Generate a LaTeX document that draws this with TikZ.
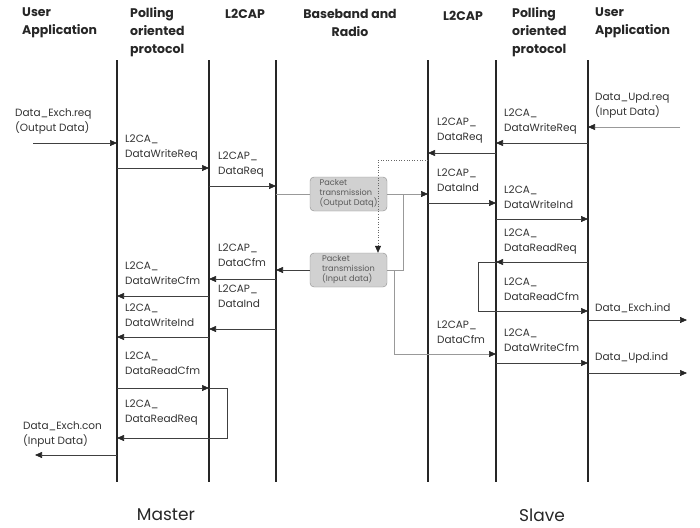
\documentclass[tikz,border=0pt]{standalone}
\usepackage{fontspec}
\setmainfont{Poppins}
\usetikzlibrary{arrows.meta}
\begin{document}
\begin{tikzpicture}[x=1pt,y=-1pt,
  life/.style={line width=1.8pt, draw=black!85},
  msg/.style={draw=black!75, line width=0.6pt, -{Triangle[length=7pt,width=6pt,color=black!85]}},
  gline/.style={draw=black!40, line width=0.6pt},
  garr/.style={draw=black!40, line width=0.6pt, -{Triangle[length=7pt,width=6pt,color=black!85]}},
  lbl/.style={anchor=west, inner sep=0pt, align=left, font=\fontsize{10.5}{15}\selectfont, text=black!80},
  hdr/.style={anchor=west, inner sep=0pt, align=left, font=\bfseries\fontsize{12.5}{18}\selectfont, text=black!85},
  pkt/.style={draw=black!45, fill=black!18, rounded corners=4pt, minimum width=77pt, minimum height=34pt, inner sep=0pt, align=left, font=\fontsize{8.2}{10}\selectfont, text=black!65},
  big/.style={inner sep=0pt, font=\fontsize{17}{20}\selectfont, text=black!85}
]
\useasboundingbox (0,0) rectangle (700,527);
% lifelines
\coordinate (mA) at (117,60); \coordinate (mAb) at (117,482);
\coordinate (mB) at (209,60); \coordinate (mBb) at (209,482);
\coordinate (mC) at (276,60); \coordinate (mCb) at (276,482);
\coordinate (sC) at (428,60); \coordinate (sCb) at (428,482);
\coordinate (sB) at (496,60); \coordinate (sBb) at (496,482);
\coordinate (sA) at (588,60); \coordinate (sAb) at (588,482);
\draw[life] (mA) -- (mAb);
\draw[life] (mB) -- (mBb);
\draw[life] (mC) -- (mCb);
\draw[life] (sC) -- (sCb);
\draw[life] (sB) -- (sBb);
\draw[life] (sA) -- (sAb);
% headers
\node[hdr] (h1) at (22,23) {User\\Application};
\node[hdr] (h2) at (130,32) {Polling\\oriented\\protocol};
\node[hdr] (h3) at (225,14) {L2CAP};
\node[hdr, anchor=center, align=center] (h4) at (350,23) {Baseband and\\Radio};
\node[hdr] (h5) at (443,16) {L2CAP};
\node[hdr] (h6) at (512,32) {Polling\\oriented\\protocol};
\node[hdr] (h7) at (595,23) {User\\Application};
\node[big] (master) at (166,515) {Master};
\node[big] (slave) at (542,515) {Slave};
% packet boxes
\node[pkt] (pk1) at (348.5,194) {Packet\\transmission\\(Output Datq)};
\node[pkt] (pk2) at (348.5,270) {Packet\\transmission\\(Input data)};
% master messages
\node[lbl] (l1) at (15,121) {Data\_Exch.req\\(Output Data)};
\coordinate (in1) at (33,143);
\draw[msg] (in1) -- (mA |- in1);
\node[lbl] (l2) at (125,147) {L2CA\_\\DataWriteReq};
\draw[msg] (mA |- 0,168) -- (mB |- 0,168);
\node[lbl] (l3) at (218,164) {L2CAP\_\\DataReq};
\draw[msg] (mB |- 0,186) -- (mC |- 0,186);
\draw[gline] (mC |- pk1.west) -- (pk1.west);
\draw[garr] (pk1.east) -- (sC |- pk1.east);
\coordinate (br1) at (403,194);
\draw[gline] (br1) |- (pk2.east);
\draw[msg] (pk2.west) -- (mC |- pk2.west);
\node[lbl] (l4) at (218,255) {L2CAP\_\\DataCfm};
\draw[msg] (mC |- 0,279) -- (mB |- 0,279);
\node[lbl] (l5) at (125,273) {L2CA\_\\DataWriteCfm};
\draw[msg] (mB |- 0,296) -- (mA |- 0,296);
\node[lbl] (l6) at (218,296) {L2CAP\_\\DataInd};
\draw[msg] (mC |- 0,329) -- (mB |- 0,329);
\node[lbl] (l7) at (125,315) {L2CA\_\\DataWriteInd};
\draw[msg] (mB |- 0,337) -- (mA |- 0,337);
\node[lbl] (l8) at (125,363) {L2CA\_\\DataReadCfm};
\draw[msg] (mA |- 0,388) -- (mB |- 0,388);
\coordinate (lp1) at (227,388);
\draw[msg] (mB |- lp1) -- (lp1) |- (mA |- 0,438);
\node[lbl] (l9) at (125,412) {L2CA\_\\DataReadReq};
\node[lbl] (l10) at (23,434) {Data\_Exch.con\\(Input Data)};
\coordinate (out1) at (35,455);
\draw[msg] (mA |- out1) -- (out1);
% slave messages
\node[lbl] (s1) at (595,105) {Data\_Upd.req\\(Input Data)};
\coordinate (in2) at (680,127);
\draw[gline, -{Triangle[length=7pt,width=6pt,color=black!85]}] (in2) -- (sA |- in2);
\node[lbl] (s2) at (504,121) {L2CA\_\\DataWriteReq};
\draw[msg] (sA |- 0,143) -- (sB |- 0,143);
\node[lbl] (s3) at (437,130) {L2CAP\_\\DataReq};
\draw[msg] (sB |- 0,153) -- (sC |- 0,153);
\coordinate (dt) at (378,160);
\draw[black!60, line width=0.6pt, dotted, -{Triangle[length=7pt,width=6pt,color=black!85]}] (sC |- dt) -- (dt) -- (dt |- pk2.north);
\node[lbl] (s4) at (437,180) {L2CAP\_\\DataInd};
\draw[msg] (sC |- 0,203) -- (sB |- 0,203);
\node[lbl] (s5) at (504,197) {L2CA\_\\DataWriteInd};
\draw[msg] (sB |- 0,219) -- (sA |- 0,219);
\node[lbl] (s6) at (504,241) {L2CA\_\\DataReadReq};
\draw[msg] (sA |- 0,262) -- (sB |- 0,262);
\coordinate (lp2) at (478,262);
\draw[msg] (sB |- lp2) -- (lp2) |- (sA |- 0,311);
\node[lbl] (s7) at (504,289) {L2CA\_\\DataReadCfm};
\node[lbl] (s8) at (595,308) {Data\_Exch.ind};
\coordinate (out2) at (687,320);
\draw[msg] (sA |- out2) -- (out2);
\node[lbl] (s9) at (437,332) {L2CAP\_\\DataCfm};
\coordinate (br2) at (394,270);
\draw[garr] (br2) |- (sB |- 0,354);
\node[lbl] (s10) at (504,340) {L2CA\_\\DataWriteCfm};
\draw[msg] (sB |- 0,363) -- (sA |- 0,363);
\node[lbl] (s11) at (595,358) {Data\_Upd.ind};
\coordinate (out3) at (687,373);
\draw[msg] (sA |- out3) -- (out3);
\end{tikzpicture}
\end{document}
